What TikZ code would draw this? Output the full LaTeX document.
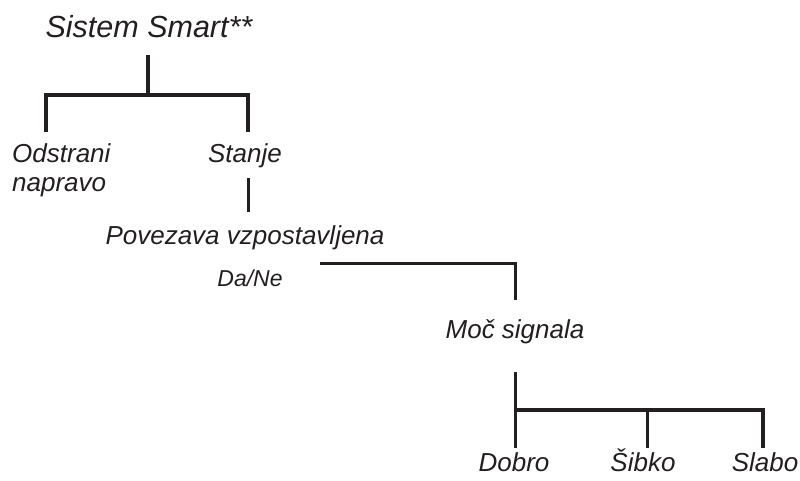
\documentclass[tikz,border=0pt]{standalone}
\usepackage{fontspec}
\setmainfont{Liberation Sans}
\begin{document}
\begin{tikzpicture}[x=1pt,y=-1pt,
  lbl/.style={anchor=base,inner sep=0pt,font=\fontsize{26}{30}\selectfont\itshape,text=ink},
  ttl/.style={lbl,font=\fontsize{30.5}{34}\selectfont\itshape},
  small/.style={lbl,font=\fontsize{23}{26}\selectfont\itshape},
  wire/.style={draw=ink,line width=3pt},
  bar/.style={draw=ink,line width=3.5pt}]
\definecolor{ink}{HTML}{231F20}
\useasboundingbox (0,0) rectangle (800,480);
% texts
\node[ttl] (title) at (149,37) {Sistem Smart**};
\node[lbl,anchor=base west] (odstr) at (12,162) {Odstrani};
\node[lbl,anchor=base west] (naprav) at (12,191) {napravo};
\node[lbl] (stanje) at (245,162) {Stanje};
\node[lbl] (poveza) at (245,244) {Povezava vzpostavljena};
\node[small] (dane) at (250,286) {Da/Ne};
\node[lbl] (moc) at (515,338) {Moč signala};
\node[lbl] (dobro) at (514,471) {Dobro};
\node[lbl] (sibko) at (643,471) {Šibko};
\node[lbl] (slabo) at (765,471) {Slabo};
% coordinates
\coordinate (t0) at (148,55);
\coordinate (t1) at (148,95);
\coordinate (bl) at (46,95);
\coordinate (br) at (248,95);
\coordinate (dl) at (46,132);
\coordinate (dr) at (248,132);
\coordinate (s0) at (248,178);
\coordinate (s1) at (248,212);
\coordinate (d0) at (320,263);
\coordinate (d1) at (515,263);
\coordinate (d2) at (515,300);
\coordinate (m0) at (515,372);
\coordinate (m1) at (515,410);
\coordinate (b3) at (763,410);
\coordinate (bm) at (647,410);
\coordinate (e1) at (515,448);
\coordinate (e2) at (647,448);
\coordinate (e3) at (763,448);
% connectors
\draw[bar] (t0) -- (t1);
\draw[bar] (dl) -- (bl) -- (br) -- (dr);
\draw[wire] (s0) -- (s1);
\draw[wire] (d0) -- (d1) -- (d2);
\draw[wire] (m0) -- (e1);
\draw[bar] (m1) -- (b3) -- (e3);
\draw[wire] (bm) -- (e2);
\end{tikzpicture}
\end{document}
